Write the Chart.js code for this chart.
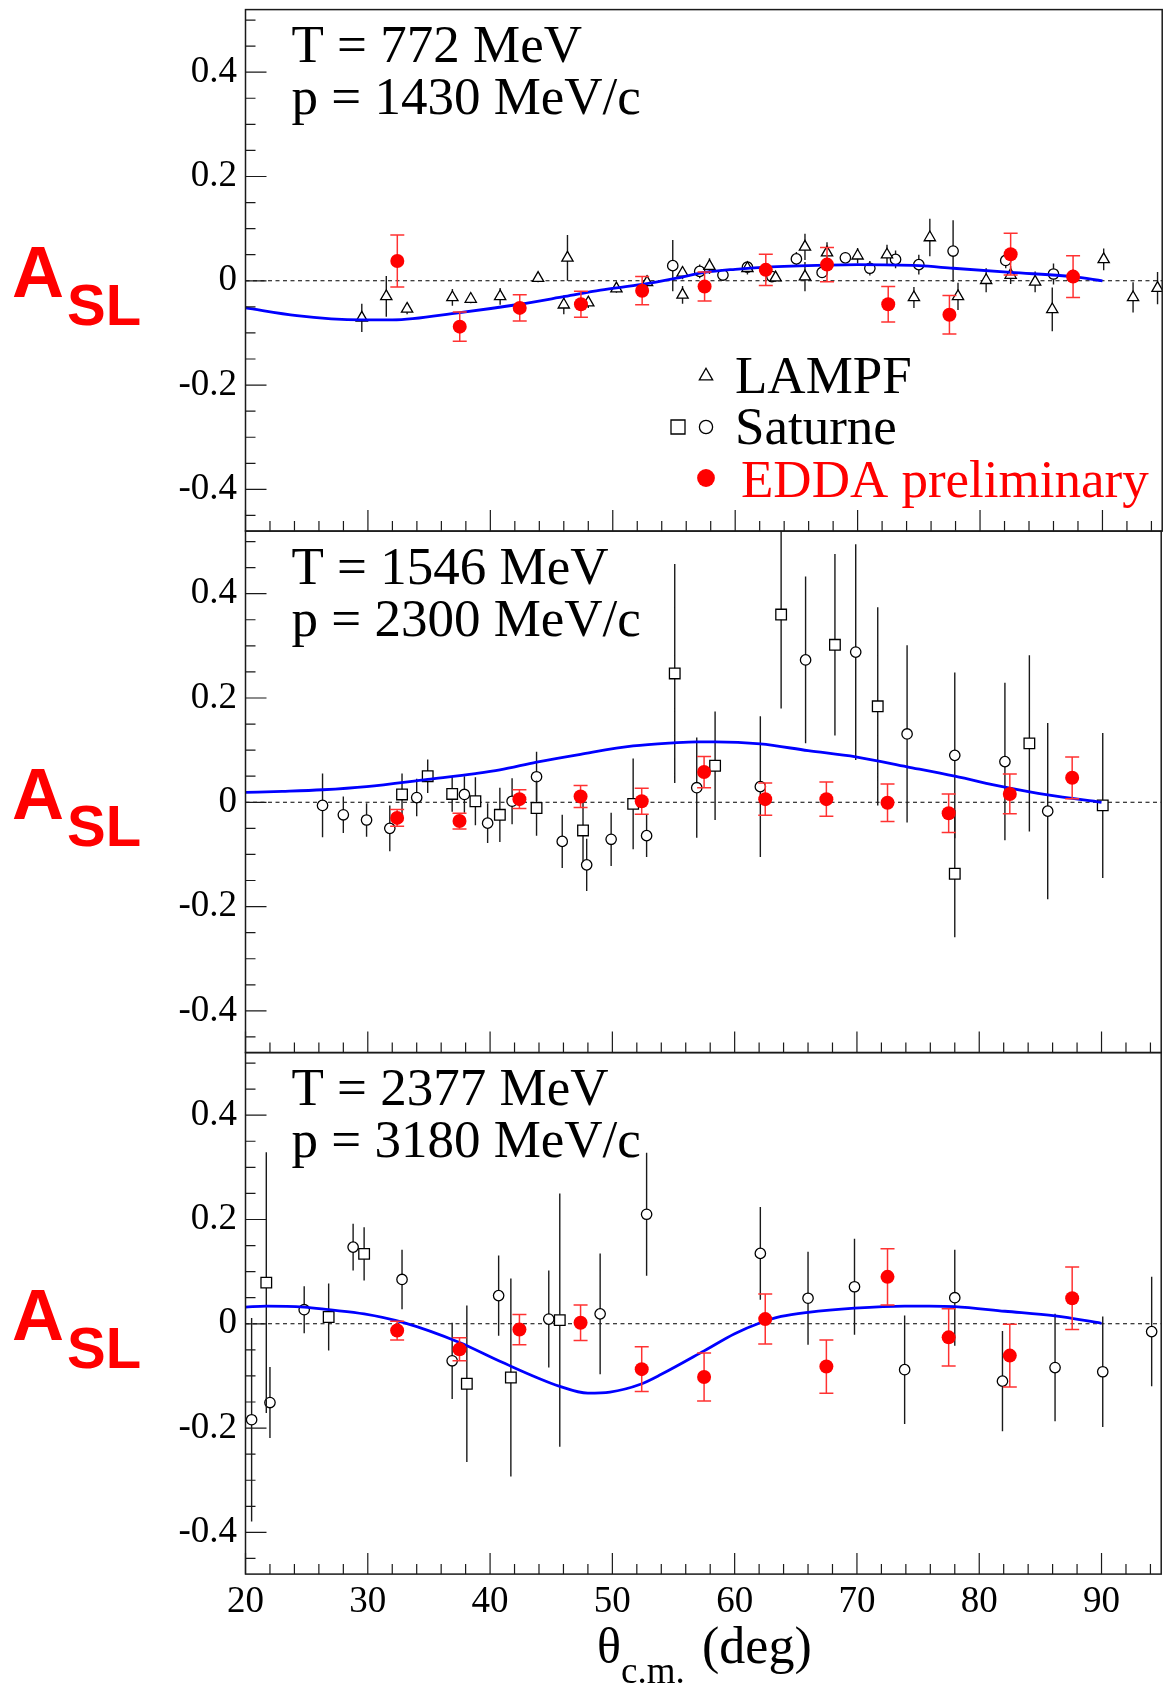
<!DOCTYPE html>
<html>
<head>
<meta charset="utf-8">
<script src="https://cdn.jsdelivr.net/npm/chart.js@4.4.1/dist/chart.umd.min.js"></script>
<style>
  html, body { margin: 0; padding: 0; background: #fff; overflow: hidden; width: 1166px; height: 1686px; }
  canvas { position: absolute; left: 0; }
</style>
</head>
<body>
<canvas id="panel0"></canvas>
<canvas id="panel1"></canvas>
<canvas id="panel2"></canvas>
<script>
// ---- axes ----
const X_MIN = 20, X_MAX = 94.88;
const Y_MIN = -0.48, Y_MAX = 0.52;
const X_TICKS = [20, 30, 40, 50, 60, 70, 80, 90];
const X_TICK_LABELS = ['20', '30', '40', '50', '60', '70', '80', '90'];
const Y_TICKS = [-0.4, -0.2, 0, 0.2, 0.4];
const Y_TICK_LABELS = ['-0.4', '-0.2', '0', '0.2', '0.4'];
const X_AXIS_TITLE = ['\u03B8', 'c.m.', '(deg)'];
const LEGEND_LABELS = ['LAMPF', 'Saturne', 'EDDA preliminary'];

// ---- panel headings ----
const P1_TITLE = ['T = 772 MeV', 'p = 1430 MeV/c'];
const P2_TITLE = ['T = 1546 MeV', 'p = 2300 MeV/c'];
const P3_TITLE = ['T = 2377 MeV', 'p = 3180 MeV/c'];

// ---- EDDA preliminary (same angles at all energies) ----
const EDDA_ANGLE = [32.4, 37.5, 42.4, 47.4, 52.4, 57.5, 62.5, 67.5, 72.5, 77.5, 82.5, 87.6];
const P1_EDDA_ASL = [0.038, -0.088, -0.052, -0.045, -0.019, -0.011, 0.021, 0.031, -0.045, -0.065, 0.051, 0.008];
const P1_EDDA_ERR = [0.050, 0.028, 0.025, 0.025, 0.027, 0.028, 0.030, 0.033, 0.034, 0.037, 0.040, 0.040];
const P2_EDDA_ASL = [-0.030, -0.036, 0.006, 0.011, 0.002, 0.058, 0.006, 0.006, -0.001, -0.021, 0.016, 0.047];
const P2_EDDA_ERR = [0.016, 0.015, 0.018, 0.021, 0.025, 0.030, 0.031, 0.033, 0.036, 0.037, 0.038, 0.040];
const P3_EDDA_ASL = [-0.013, -0.049, -0.011, 0.002, -0.087, -0.102, 0.009, -0.082, 0.090, -0.026, -0.061, 0.049];
const P3_EDDA_ERR = [0.018, 0.022, 0.029, 0.034, 0.043, 0.046, 0.048, 0.051, 0.054, 0.055, 0.060, 0.060];

// ---- LAMPF, T = 772 MeV ----
const P1_LAMPF_ANGLE = [29.5, 31.5, 33.2, 36.9, 38.4, 40.8, 43.9, 46.3, 46.0, 48.0, 50.3, 52.8, 55.7, 55.7, 57.9, 61.0, 63.3,
  65.7, 65.7, 67.5, 70.0, 72.4, 74.6, 75.9, 78.2, 80.5, 82.5, 84.5, 85.9, 87.6, 90.1, 92.5, 94.5];
const P1_LAMPF_ASL = [-0.071, -0.030, -0.054, -0.032, -0.035, -0.030, 0.005, 0.044, -0.046, -0.042, -0.015, -0.003, 0.015, -0.027, 0.028, 0.024, 0.006,
  0.065, 0.008, 0.054, 0.048, 0.050, -0.032, 0.083, -0.030, 0.001, 0.011, -0.002, -0.055, 0.008, 0.041, -0.032, -0.014];
const P1_LAMPF_ERR = [0.027, 0.039, 0.010, 0.016, 0.008, 0.016, 0.008, 0.044, 0.018, 0.010, 0.008, 0.013, 0.012, 0.017, 0.015, 0.012, 0.008,
  0.025, 0.028, 0.020, 0.015, 0.019, 0.020, 0.036, 0.026, 0.023, 0.017, 0.020, 0.042, 0.010, 0.021, 0.029, 0.031];

// ---- Saturne, T = 772 MeV (circles) ----
const P1_SAT_CIRC_ANGLE = [54.9, 57.1, 59.0, 61.0, 63.0, 65.0, 67.1, 69.0, 71.0, 73.1, 75.0, 77.8, 82.1, 86.0];
const P1_SAT_CIRC_ASL = [0.029, 0.018, 0.011, 0.026, 0.008, 0.042, 0.016, 0.044, 0.024, 0.041, 0.031, 0.057, 0.039, 0.013];
const P1_SAT_CIRC_ERR = [0.049, 0.013, 0.010, 0.010, 0.010, 0.013, 0.010, 0.010, 0.014, 0.017, 0.019, 0.059, 0.015, 0.020];

// ---- Saturne, T = 1546 MeV ----
const P2_SAT_CIRC_ANGLE = [26.3, 28.0, 29.9, 31.8, 34.0, 37.9, 39.8, 41.8, 43.8, 45.9, 47.9, 49.9, 52.8, 56.9, 62.1, 65.8, 69.9, 74.1, 78.0, 82.1, 85.6];
const P2_SAT_CIRC_ASL = [-0.006, -0.024, -0.034, -0.050, 0.009, 0.015, -0.040, 0.002, 0.049, -0.075, -0.120, -0.071, -0.064, 0.028, 0.030, 0.273, 0.288, 0.131, 0.090, 0.078, -0.017];
const P2_SAT_CIRC_ERR = [0.061, 0.035, 0.032, 0.044, 0.036, 0.035, 0.038, 0.044, 0.048, 0.051, 0.050, 0.051, 0.041, 0.096, 0.135, 0.160, 0.207, 0.170, 0.159, 0.151, 0.169];
const P2_SAT_SQ_ANGLE = [32.8, 34.9, 36.9, 38.8, 40.8, 43.8, 47.6, 51.7, 55.1, 58.4, 63.8, 68.2, 71.7, 78.0, 84.1, 90.1];
const P2_SAT_SQ_ASL = [0.015, 0.050, 0.016, 0.002, -0.024, -0.011, -0.054, -0.003, 0.247, 0.070, 0.360, 0.302, 0.184, -0.137, 0.113, -0.006];
const P2_SAT_SQ_ERR = [0.040, 0.032, 0.034, 0.046, 0.052, 0.053, 0.060, 0.087, 0.210, 0.104, 0.180, 0.174, 0.190, 0.122, 0.169, 0.139];

// ---- Saturne, T = 2377 MeV ----
const P3_SAT_CIRC_ANGLE = [20.5, 22.0, 24.8, 28.8, 32.8, 36.9, 40.7, 44.8, 49.0, 52.8, 62.1, 66.0, 69.8, 73.9, 78.0, 81.9, 86.2, 90.1, 94.1];
const P3_SAT_CIRC_ASL = [-0.184, -0.151, 0.027, 0.147, 0.085, -0.071, 0.054, 0.009, 0.019, 0.210, 0.135, 0.049, 0.071, -0.088, 0.050, -0.110, -0.084, -0.092, -0.015];
const P3_SAT_CIRC_ERR = [0.195, 0.068, 0.045, 0.045, 0.057, 0.073, 0.077, 0.093, 0.116, 0.118, 0.089, 0.089, 0.092, 0.104, 0.092, 0.096, 0.103, 0.106, 0.105];
const P3_SAT_SQ_ANGLE = [21.7, 26.8, 29.7, 38.1, 41.7, 45.7];
const P3_SAT_SQ_ASL = [0.079, 0.013, 0.134, -0.115, -0.103, 0.007];
const P3_SAT_SQ_ERR = [0.250, 0.064, 0.051, 0.150, 0.190, 0.243];

// ---- phase-shift prediction curves ----
const P1_CURVE_ANGLE = [20, 24.2, 27, 29.5, 32, 37.5, 42.4, 46.1, 49, 52.4, 55.2, 57.5, 60, 62.5, 67.5, 70, 75, 77.8, 82.5, 87.6, 90];
const P1_CURVE_ASL = [-0.052, -0.067, -0.073, -0.075, -0.075, -0.061, -0.045, -0.030, -0.018, -0.007, 0.005, 0.016, 0.022, 0.026, 0.030, 0.031, 0.029, 0.024, 0.016, 0.008, 0.0];
const P2_CURVE_ANGLE = [20, 23, 26.3, 29.9, 34.9, 38.8, 40.8, 43.8, 47.4, 51.7, 55, 56.9, 58.4, 62.1, 66, 69.9, 74.1, 78, 82.1, 85.6, 90];
const P2_CURVE_ASL = [0.019, 0.021, 0.024, 0.030, 0.044, 0.055, 0.062, 0.077, 0.092, 0.108, 0.114, 0.116, 0.116, 0.112, 0.099, 0.087, 0.068, 0.050, 0.029, 0.014, 0.0];
const P3_CURVE_ANGLE = [20, 21.7, 24.8, 26.8, 29.7, 32.8, 37.5, 40.8, 45.7, 48, 49.8, 52.3, 54, 57.5, 60, 62, 63.8, 66, 69.8, 73.9, 75.9, 78, 82.1, 86.2, 90];
const P3_CURVE_ASL = [0.032, 0.034, 0.032, 0.027, 0.019, 0.003, -0.036, -0.072, -0.120, -0.133, -0.131, -0.116, -0.097, -0.052, -0.019, 0.001, 0.014, 0.022, 0.030, 0.034, 0.034, 0.033, 0.024, 0.015, 0.001];

// ---- page geometry ----
const PANEL_TOPS = [9.6, 531.1, 1052.6];
const PANEL_H = 521.5;
const AXIS_LEFT = 245.5;
const CANVAS_W = 1170;

const pts = (xs, ys) => xs.map((x, i) => ({ x: x, y: ys[i] }));

function openSet(xs, ys, errs, style, radius) {
  return {
    type: 'scatter', data: pts(xs, ys), errors: errs, errColor: '#1a1a1a', errWidth: 1.4, errCap: 0,
    pointStyle: style, pointRadius: radius, pointBorderWidth: 1.3,
    pointBackgroundColor: '#ffffff', pointBorderColor: '#000000', order: 3
  };
}
function eddaSet(ys, errs) {
  return {
    type: 'scatter', data: pts(EDDA_ANGLE, ys), errors: errs, errColor: '#ff3232', errWidth: 1.5, errCap: 7,
    pointStyle: 'circle', pointRadius: 7, pointBorderWidth: 0,
    pointBackgroundColor: '#ff0000', pointBorderColor: '#ff0000', order: 1
  };
}
function curveSet(xs, ys) {
  return {
    type: 'line', data: pts(xs, ys), showLine: true, borderColor: '#0000ff', borderWidth: 2.8,
    pointRadius: 0, fill: false, cubicInterpolationMode: 'monotone', order: 2
  };
}

const PANELS = [
  { title: P1_TITLE, datasets: [
      openSet(P1_LAMPF_ANGLE, P1_LAMPF_ASL, P1_LAMPF_ERR, 'triangle', 6.5),
      openSet(P1_SAT_CIRC_ANGLE, P1_SAT_CIRC_ASL, P1_SAT_CIRC_ERR, 'circle', 5.2),
      curveSet(P1_CURVE_ANGLE, P1_CURVE_ASL),
      eddaSet(P1_EDDA_ASL, P1_EDDA_ERR) ] },
  { title: P2_TITLE, datasets: [
      openSet(P2_SAT_SQ_ANGLE, P2_SAT_SQ_ASL, P2_SAT_SQ_ERR, 'rect', 7.5),
      openSet(P2_SAT_CIRC_ANGLE, P2_SAT_CIRC_ASL, P2_SAT_CIRC_ERR, 'circle', 5.2),
      curveSet(P2_CURVE_ANGLE, P2_CURVE_ASL),
      eddaSet(P2_EDDA_ASL, P2_EDDA_ERR) ] },
  { title: P3_TITLE, datasets: [
      openSet(P3_SAT_SQ_ANGLE, P3_SAT_SQ_ASL, P3_SAT_SQ_ERR, 'rect', 7.5),
      openSet(P3_SAT_CIRC_ANGLE, P3_SAT_CIRC_ASL, P3_SAT_CIRC_ERR, 'circle', 5.2),
      curveSet(P3_CURVE_ANGLE, P3_CURVE_ASL),
      eddaSet(P3_EDDA_ASL, P3_EDDA_ERR) ] }
];

const SERIF = '"Liberation Serif", "Times New Roman", serif';
const SANS = '"Liberation Sans", Arial, sans-serif';

function seg(ctx, x1, y1, x2, y2) { ctx.moveTo(x1, y1); ctx.lineTo(x2, y2); }

// error bars, zero line, frame, ticks and annotations
const decor = {
  id: 'decor',
  beforeDatasetsDraw(chart) {
    const { ctx, chartArea: a, scales } = chart;
    const y0 = scales.y.getPixelForValue(0);
    ctx.save();
    ctx.strokeStyle = '#000';
    ctx.lineWidth = 1.1;
    ctx.setLineDash([4, 3.5]);
    ctx.beginPath(); seg(ctx, a.left, y0, a.right, y0); ctx.stroke();
    ctx.restore();
  },
  beforeDatasetDraw(chart, args) {
    const ds = chart.data.datasets[args.index];
    if (!ds.errors) return;
    const { ctx, chartArea: a, scales } = chart;
    ctx.save();
    ctx.beginPath(); ctx.rect(a.left, a.top, a.right - a.left, a.bottom - a.top); ctx.clip();
    ctx.strokeStyle = ds.errColor;
    ctx.lineWidth = ds.errWidth;
    ctx.beginPath();
    ds.data.forEach((p, i) => {
      const e = ds.errors[i];
      const px = scales.x.getPixelForValue(p.x);
      const yt = scales.y.getPixelForValue(p.y + e);
      const yb = scales.y.getPixelForValue(p.y - e);
      seg(ctx, px, yt, px, yb);
      if (ds.errCap) {
        seg(ctx, px - ds.errCap, yt, px + ds.errCap, yt);
        seg(ctx, px - ds.errCap, yb, px + ds.errCap, yb);
      }
    });
    ctx.stroke();
    ctx.restore();
  },
  afterDraw(chart) {
    const { ctx, chartArea: a, scales } = chart;
    const opts = chart.options.plugins.decor;
    const X = v => scales.x.getPixelForValue(v);
    const Y = v => scales.y.getPixelForValue(v);
    ctx.save();
    // frame
    ctx.strokeStyle = '#1a1a1a';
    ctx.lineWidth = 1.5;
    ctx.strokeRect(a.left, a.top, a.right - a.left, a.bottom - a.top);
    // ticks point into the frame
    ctx.lineWidth = 1.2;
    ctx.beginPath();
    for (let k = -9; k <= 10; k++) {
      const v = k * 0.05;
      const len = (k % 4 === 0) ? 21 : 10;
      seg(ctx, a.left, Y(v), a.left + len, Y(v));
    }
    for (let d = X_MIN; d <= X_MAX; d += 2) {
      const len = (d % 10 === 0) ? 21 : 10;
      seg(ctx, X(d), a.bottom, X(d), a.bottom - len);
    }
    ctx.stroke();

    // energy / momentum heading
    ctx.fillStyle = '#000';
    ctx.textAlign = 'left';
    ctx.textBaseline = 'alphabetic';
    ctx.font = '53px ' + SERIF;
    ctx.fillText(opts.title[0], a.left + 46, a.top + 52.4);
    ctx.fillText(opts.title[1], a.left + 46, a.top + 104.7);

    // y-axis quantity
    ctx.fillStyle = '#ff0000';
    ctx.font = 'bold 72px ' + SANS;
    ctx.fillText('A', 12, a.top + 287.7);
    ctx.font = 'bold 58px ' + SANS;
    ctx.fillText('SL', 67, a.top + 315);

    if (opts.legend) {
      ctx.lineWidth = 1.3;
      ctx.strokeStyle = '#000';
      ctx.fillStyle = '#fff';
      // triangle
      const tr = 7.7, tx = 706, ty = 377;
      ctx.beginPath();
      ctx.moveTo(tx, ty - tr);
      ctx.lineTo(tx + tr * 0.866, ty + tr * 0.5);
      ctx.lineTo(tx - tr * 0.866, ty + tr * 0.5);
      ctx.closePath(); ctx.fill(); ctx.stroke();
      // square and circle
      ctx.beginPath(); ctx.rect(678 - 7, 428 - 7, 14, 14); ctx.fill(); ctx.stroke();
      ctx.beginPath(); ctx.arc(706, 428, 6.6, 0, Math.PI * 2); ctx.fill(); ctx.stroke();
      // filled red dot
      ctx.fillStyle = '#ff0000';
      ctx.beginPath(); ctx.arc(706, 479, 8.9, 0, Math.PI * 2); ctx.fill();
      ctx.font = '53px ' + SERIF;
      ctx.fillStyle = '#000';
      ctx.fillText(LEGEND_LABELS[0], 735, 393.7);
      ctx.fillText(LEGEND_LABELS[1], 735, 444.7);
      ctx.fillStyle = '#ff0000';
      ctx.fillText(LEGEND_LABELS[2], 741, 497.7);
    }

    if (opts.axisTitle) {
      const base = a.bottom + 89;
      ctx.fillStyle = '#000';
      ctx.font = '50px ' + SERIF;
      ctx.fillText(X_AXIS_TITLE[0], 597, base);
      ctx.font = '37px ' + SERIF;
      ctx.fillText(X_AXIS_TITLE[1], 621, base + 20);
      ctx.font = '52px ' + SERIF;
      ctx.fillText(X_AXIS_TITLE[2], 702, base);
    }
    ctx.restore();
  }
};

function noEdgePadding(s) {
  s.paddingTop = 0; s.paddingBottom = 0; s.paddingLeft = 0; s.paddingRight = 0;
}

function build(i) {
  const isBottom = i === 2;
  const canvasTop = Math.floor(PANEL_TOPS[i]) - 10;
  const canvasH = isBottom ? 1686 - canvasTop : 541;
  const padTop = PANEL_TOPS[i] - canvasTop;
  const xAxisH = isBottom ? canvasH - padTop - PANEL_H : 0;
  const padBottom = isBottom ? 0 : canvasH - padTop - PANEL_H;
  const cv = document.getElementById('panel' + i);
  cv.width = CANVAS_W; cv.height = canvasH;
  cv.style.top = canvasTop + 'px';
  cv.style.width = CANVAS_W + 'px'; cv.style.height = canvasH + 'px';

  return new Chart(cv, {
    type: 'scatter',
    data: { datasets: PANELS[i].datasets },
    plugins: [decor],
    options: {
      responsive: false,
      animation: false,
      events: [],
      devicePixelRatio: 1,
      layout: { padding: { top: padTop, bottom: padBottom, left: 0, right: 2 } },
      plugins: {
        legend: { display: false },
        tooltip: { enabled: false },
        decor: { title: PANELS[i].title, legend: i === 0, axisTitle: isBottom }
      },
      scales: {
        x: {
          type: 'linear', min: X_MIN, max: X_MAX,
          afterBuildTicks: s => { s.ticks = X_TICKS.map(v => ({ value: v })); },
          afterFit: s => { s.height = xAxisH; noEdgePadding(s); },
          grid: { display: false, drawTicks: false },
          border: { display: false },
          ticks: {
            display: isBottom, autoSkip: false, maxRotation: 0, padding: 6, color: '#000',
            font: { family: SERIF, size: 37 },
            callback: (v, idx) => X_TICK_LABELS[idx]
          }
        },
        y: {
          type: 'linear', min: Y_MIN, max: Y_MAX,
          afterBuildTicks: s => { s.ticks = Y_TICKS.map(v => ({ value: v })); },
          afterFit: s => { s.width = AXIS_LEFT; noEdgePadding(s); },
          grid: { display: false, drawTicks: false },
          border: { display: false },
          ticks: {
            padding: 8.5, color: '#000',
            font: { family: SERIF, size: 37 },
            callback: (v, idx) => Y_TICK_LABELS[idx]
          }
        }
      }
    }
  });
}

const fontsReady = document.fonts && document.fonts.load
  ? Promise.all([
      document.fonts.load('53px "Liberation Serif"'),
      document.fonts.load('bold 72px "Liberation Sans"')
    ]).catch(() => null)
  : Promise.resolve();
fontsReady.then(() => { [0, 1, 2].forEach(build); });
</script>
</body>
</html>
